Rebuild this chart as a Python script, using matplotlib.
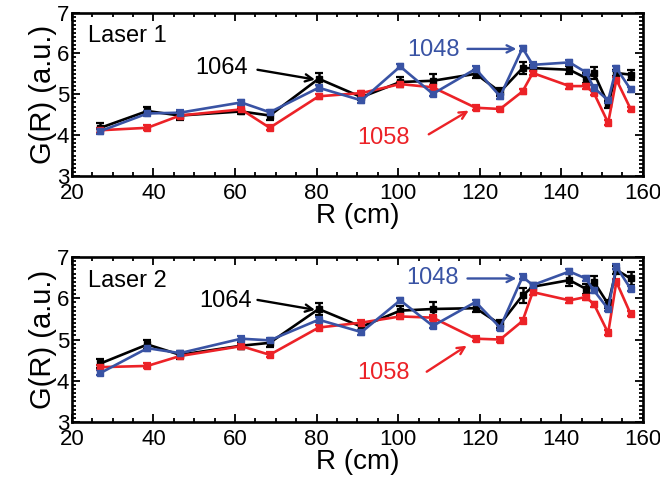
import numpy as np
import matplotlib
matplotlib.use('Agg')
import matplotlib.pyplot as plt
from matplotlib.ticker import MultipleLocator

plt.rcParams['font.family'] = ['Liberation Sans', 'DejaVu Sans']

# radial positions (cm)
R = [27, 38.5, 46.5, 61.5, 68.5, 80.5, 91, 100.5, 108.5, 119, 125,
     130.5, 133, 142, 146, 148, 151.5, 153.5, 157]

# Laser 1
l1_1064 = [4.18, 4.59, 4.48, 4.58, 4.48, 5.38, 4.93, 5.30, 5.33, 5.50, 5.06,
           5.64, 5.64, 5.60, 5.40, 5.52, 4.75, 5.52, 5.48]
l1_1058 = [4.12, 4.18, 4.48, 4.63, 4.18, 4.95, 5.03, 5.25, 5.17, 4.67, 4.64,
           5.07, 5.52, 5.20, 5.20, 5.03, 4.30, 5.36, 4.64]
l1_1048 = [4.10, 4.53, 4.55, 4.80, 4.56, 5.16, 4.85, 5.68, 5.01, 5.62, 4.95,
           6.13, 5.72, 5.78, 5.54, 5.16, 4.85, 5.64, 5.12]
l1_1064_err = [0.12, 0.1, 0.1, 0.06, 0.1, 0.15, 0.06, 0.12, 0.16, 0.1, 0.1,
               0.15, 0.08, 0.1, 0.12, 0.14, 0.08, 0.08, 0.12]

# Laser 2
l2_1064 = [4.42, 4.88, 4.63, 4.85, 4.92, 5.74, 5.31, 5.70, 5.74, 5.76, 5.37,
           6.07, 6.28, 6.44, 6.23, 6.40, 5.86, 6.69, 6.48]
l2_1058 = [4.33, 4.36, 4.60, 4.84, 4.63, 5.29, 5.41, 5.56, 5.53, 5.02, 5.00,
           5.45, 6.15, 5.95, 6.03, 5.86, 5.16, 6.40, 5.62]
l2_1048 = [4.19, 4.79, 4.67, 5.02, 4.98, 5.48, 5.18, 5.95, 5.33, 5.91, 5.29,
           6.52, 6.32, 6.65, 6.48, 6.19, 5.74, 6.77, 6.23]
l2_1064_err = [0.1, 0.1, 0.1, 0.08, 0.1, 0.15, 0.08, 0.12, 0.16, 0.1, 0.1,
               0.18, 0.08, 0.14, 0.12, 0.15, 0.1, 0.1, 0.15]

err_small = 0.06
black = 'black'
red = '#ec2227'
blue = '#3953a4'

fig = plt.figure(figsize=(6.6, 4.91), dpi=100)
ax1 = fig.add_axes([0.109, 0.6415, 0.865, 0.333])
ax2 = fig.add_axes([0.109, 0.1405, 0.865, 0.336])

panels = [
    (ax1, 'Laser 1', l1_1064, l1_1058, l1_1048, l1_1064_err,
     (56.7, 5.65), (65.5, 5.60), (79.6, 5.36),
     (108.7, 6.09), (117.0, 6.11), (129.0, 6.11),
     (96.5, 3.94), (107.5, 4.02), (117.3, 4.60)),
    (ax2, 'Laser 2', l2_1064, l2_1058, l2_1048, l2_1064_err,
     (57.6, 5.94), (65.5, 5.96), (79.6, 5.72),
     (108.3, 6.48), (117.0, 6.48), (129.0, 6.48),
     (96.5, 4.19), (107.0, 4.22), (116.8, 4.85)),
]

for (ax, title, g64, g58, g48, e64, t64, s64, h64,
     t48, s48, h48, t58, s58, h58) in panels:
    kw = dict(marker='s', ms=4, lw=1.9, elinewidth=1.8, capsize=2.6,
              capthick=1.6)
    ax.errorbar(R, g64, yerr=e64, color=black, **kw)
    ax.errorbar(R, g58, yerr=err_small, color=red, **kw)
    ax.errorbar(R, g48, yerr=err_small, color=blue, **kw)

    ax.set_xlim(20, 160)
    ax.set_ylim(3, 7)
    ax.xaxis.set_major_locator(MultipleLocator(20))
    ax.xaxis.set_minor_locator(MultipleLocator(5))
    ax.yaxis.set_major_locator(MultipleLocator(1))
    ax.yaxis.set_minor_locator(MultipleLocator(0.1))
    ax.tick_params(which='both', direction='in', top=True, right=True,
                   width=1.3)
    ax.tick_params(which='major', length=6, labelsize=16)
    ax.tick_params(axis='x', which='major', pad=5)
    ax.tick_params(axis='y', which='major', pad=2)
    ax.tick_params(which='minor', length=3)
    for s in ax.spines.values():
        s.set_linewidth(1.9)
    ax.set_xlabel('R (cm)', fontsize=20, labelpad=-1)
    ax.set_ylabel('G(R) (a.u.)', fontsize=21, labelpad=0)

    ax.text(24.0, 6.43, title, fontsize=17, va='center', ha='left')

    arrow_kw = dict(arrowstyle='->', lw=1.7, mutation_scale=13,
                    shrinkA=0, shrinkB=0)
    ax.text(t64[0], t64[1], '1064', fontsize=17, color=black,
            ha='center', va='center')
    ax.annotate('', xy=h64, xytext=s64,
                arrowprops=dict(color=black, **arrow_kw))
    ax.text(t48[0], t48[1], '1048', fontsize=17, color=blue,
            ha='center', va='center')
    ax.annotate('', xy=h48, xytext=s48,
                arrowprops=dict(color=blue, **arrow_kw))
    ax.text(t58[0], t58[1], '1058', fontsize=17, color=red,
            ha='center', va='center')
    ax.annotate('', xy=h58, xytext=s58,
                arrowprops=dict(color=red, **arrow_kw))

fig.savefig('out.png', dpi=100)
